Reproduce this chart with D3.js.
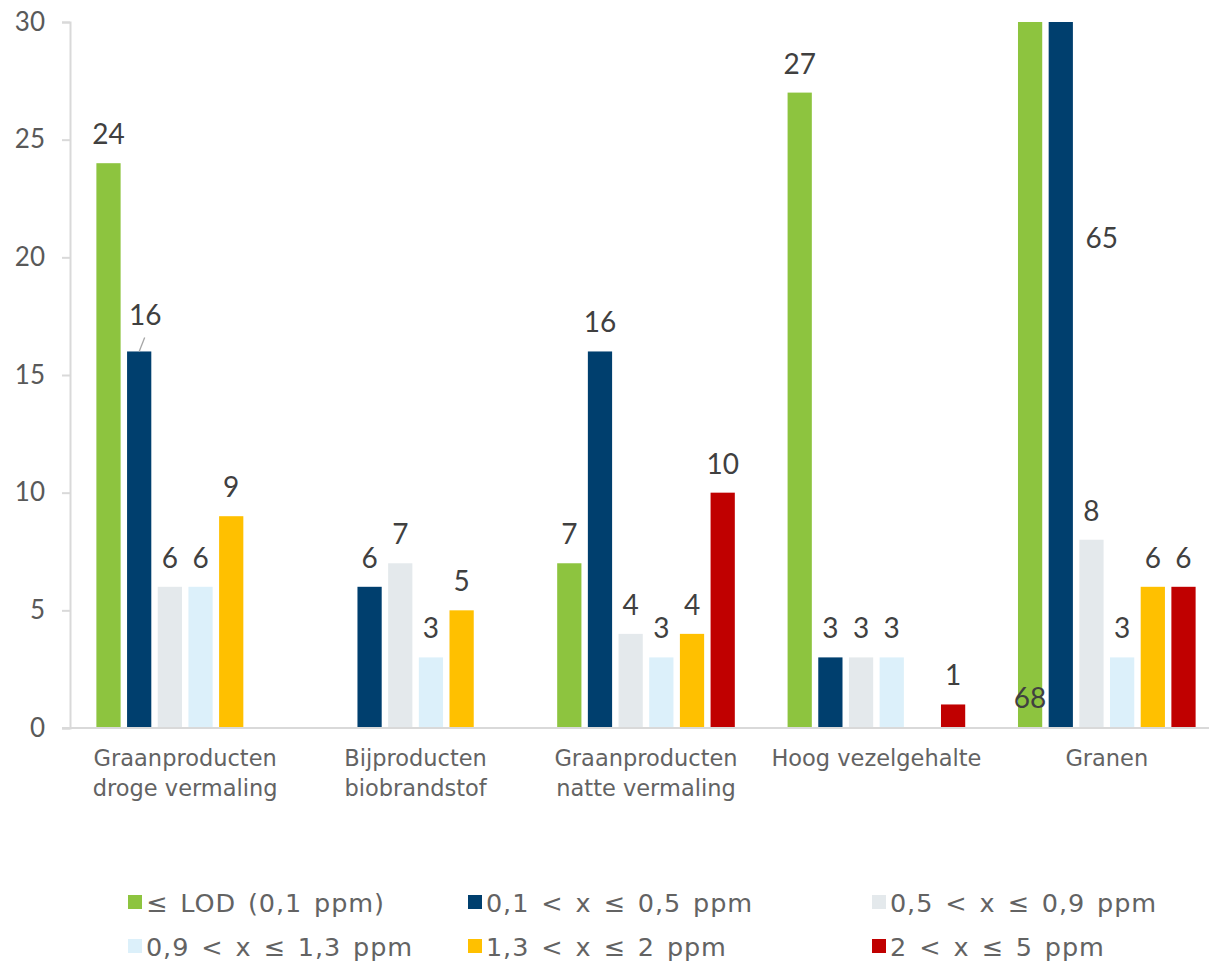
<!DOCTYPE html>
<html>
<head>
<meta charset="utf-8">
<script src="https://cdn.jsdelivr.net/npm/d3@7"></script>
<style>
  html, body { margin: 0; padding: 0; background: #fff; }
  svg { display: block; font-family: Lato, "Noto Sans", sans-serif; }
  .wide { font-family: "DejaVu Sans", "Noto Sans", sans-serif; }
</style>
</head>
<body>
<svg id="chart" width="1209" height="965"></svg>
<script>
// Product groups (x axis), with line breaks for the labels
const categories = [
  "Graanproducten droge vermaling",
  "Bijproducten biobrandstof",
  "Graanproducten natte vermaling",
  "Hoog vezelgehalte",
  "Granen"
];
const categoryLines = [
  ["Graanproducten", "droge vermaling"],
  ["Bijproducten", "biobrandstof"],
  ["Graanproducten", "natte vermaling"],
  ["Hoog vezelgehalte"],
  ["Granen"]
];

// Concentration classes (series)
const seriesNames = [
  "≤ LOD (0,1 ppm)",
  "0,1 < x ≤ 0,5 ppm",
  "0,5 < x ≤ 0,9 ppm",
  "0,9 < x ≤ 1,3 ppm",
  "1,3 < x ≤ 2 ppm",
  "2 < x ≤ 5 ppm"
];
const seriesColors = ["#8dc43f", "#003f6e", "#e4e9ec", "#dcf0fa", "#ffc000", "#c00000"];

// Number of samples per class, one array per series (in category order)
const lod      = [24, 0, 7, 27, 68];
const s01_05   = [16, 6, 16, 3, 65];
const s05_09   = [6, 7, 4, 3, 8];
const s09_13   = [6, 3, 3, 3, 3];
const s13_2    = [9, 5, 4, 0, 6];
const s2_5     = [0, 0, 10, 1, 6];
const seriesValues = [lod, s01_05, s05_09, s09_13, s13_2, s2_5];

const yTicks = [0, 5, 10, 15, 20, 25, 30];

const svg = d3.select("#chart");
const plot = { left: 70, top: 22, bottom: 728, right: 1222 };

const x0 = d3.scaleBand().domain(categories).range([plot.left, plot.right]).padding(0);
const x1 = d3.scaleBand().domain(d3.range(seriesNames.length))
  .range([0, x0.bandwidth()]).paddingInner(0.21).paddingOuter(0.86);
const y = d3.scaleLinear().domain([0, 30]).range([plot.bottom, plot.top]);

// clip bars that exceed the axis maximum
svg.append("defs").append("clipPath").attr("id", "plotClip")
  .append("rect").attr("x", plot.left).attr("y", plot.top)
  .attr("width", plot.right - plot.left).attr("height", plot.bottom - plot.top);

// Y axis
const yAxis = svg.append("g").attr("transform", `translate(${plot.left},0)`)
  .call(d3.axisLeft(y).tickValues(yTicks).tickSize(8).tickPadding(17).tickFormat(d3.format("d")));
yAxis.select(".domain").attr("stroke", "#d9d9d9").attr("stroke-width", 2);
yAxis.selectAll(".tick line").attr("stroke", "#d9d9d9").attr("stroke-width", 2);
yAxis.selectAll(".tick text").attr("fill", "#595959").style("font-size", "26px")
  .attr("font-family", "Lato, 'Noto Sans', sans-serif");

// Bars
const data = [];
categories.forEach((c, ci) => {
  seriesValues.forEach((vals, si) => {
    data.push({ cat: c, ci, si, v: vals[ci] });
  });
});

const barG = svg.append("g").attr("clip-path", "url(#plotClip)");
barG.selectAll("rect").data(data.filter(d => d.v > 0)).join("rect")
  .attr("x", d => x0(d.cat) + x1(d.si))
  .attr("width", x1.bandwidth())
  .attr("y", d => y(d.v))
  .attr("height", d => y(0) - y(d.v))
  .attr("fill", d => seriesColors[d.si]);

// X axis line
svg.append("line")
  .attr("x1", plot.left - 8).attr("x2", 1209)
  .attr("y1", y(0)).attr("y2", y(0))
  .attr("stroke", "#d9d9d9").attr("stroke-width", 2);

// Category labels
const catG = svg.append("g").attr("class", "wide");
categoryLines.forEach((lines, ci) => {
  const cx = x0(categories[ci]) + x0.bandwidth() / 2;
  lines.forEach((t, li) => {
    catG.append("text")
      .attr("x", cx).attr("y", 766 + li * 30)
      .attr("text-anchor", "middle")
      .attr("fill", "#636363")
      .style("font-size", "22.5px")
      .text(t);
  });
});

// Value labels
const labelG = svg.append("g");
data.filter(d => d.v > 0).forEach(d => {
  const cx = x0(d.cat) + x1(d.si) + x1.bandwidth() / 2;
  let lx = cx;
  let ly = Math.max(y(d.v), plot.top) - 19;
  if (d.v > 30) {
    // values beyond the axis: label inside / beside the clipped bar
    if (d.si === 0) { ly = y(0) - 20; }
    else { lx = cx + 41; ly = 248; }
  }
  if (d.ci === 0 && d.si === 1) {
    // nudged label with a leader line
    lx = cx + 6; ly = y(d.v) - 26;
    labelG.append("line")
      .attr("x1", cx + 5.5).attr("y1", ly + 12)
      .attr("x2", cx).attr("y2", y(d.v))
      .attr("stroke", "#a6a6a6").attr("stroke-width", 1.3);
  }
  labelG.append("text")
    .attr("x", lx).attr("y", ly)
    .attr("text-anchor", "middle")
    .attr("fill", "#404040")
    .style("font-size", "28px")
    .text(d.v);
});

// Legend
const legendPos = [
  [128, 902], [468, 902], [872, 902],
  [128, 946], [468, 946], [872, 946]
];
const legG = svg.append("g").attr("class", "wide");
seriesNames.forEach((name, i) => {
  const [lx, ly] = legendPos[i];
  legG.append("rect").attr("x", lx).attr("y", ly - 7)
    .attr("width", 14).attr("height", 14).attr("fill", seriesColors[i]);
  legG.append("text").attr("x", lx + 18).attr("y", ly + 9.5)
    .attr("fill", "#636363").style("font-size", "25.5px")
    .style("letter-spacing", "0.9px")
    .style("word-spacing", "3px")
    .text(name);
});
</script>
</body>
</html>
